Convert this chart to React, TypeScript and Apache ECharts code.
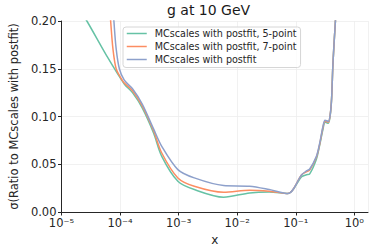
import React, { useEffect, useRef } from "react";
import * as echarts from "echarts";

const titleText = "g at 10 GeV";
const seriesNames = [
  "MCscales with postfit, 5-point",
  "MCscales with postfit, 7-point",
  "MCscales with postfit",
];
const seriesColors = ["#66c2a5", "#fc8d62", "#8da0cb"];

const greenX = [2.0e-5, 2.71e-5, 5.85e-5, 1.18e-4, 1.63e-4, 2.39e-4, 3.73e-4, 5.15e-4, 9.7e-4, 1.85e-3, 5.85e-3, 0.0163, 0.0351, 0.0736, 0.126, 0.152, 0.173, 0.224, 0.254, 0.29, 0.316, 0.359, 0.387, 0.409, 0.43, 0.459, 0.476, 0.5];
const greenY = [0.212, 0.2, 0.164, 0.134, 0.125, 0.109, 0.0827, 0.0583, 0.0322, 0.0235, 0.0155, 0.02, 0.021, 0.0193, 0.037, 0.039, 0.04, 0.055, 0.069, 0.086, 0.094, 0.093, 0.101, 0.119, 0.154, 0.185, 0.201, 0.24];

const orangeX = [6.0e-5, 6.9e-5, 7.55e-5, 8.57e-5, 1.04e-4, 1.18e-4, 1.63e-4, 2.39e-4, 3.73e-4, 5.15e-4, 9.7e-4, 1.85e-3, 5.85e-3, 0.0163, 0.0351, 0.0736, 0.126, 0.152, 0.173, 0.224, 0.254, 0.29, 0.316, 0.359, 0.387, 0.409, 0.43, 0.459, 0.476, 0.5];
const orangeY = [0.25, 0.2, 0.171, 0.15, 0.14, 0.135, 0.127, 0.111, 0.085, 0.0618, 0.0357, 0.027, 0.0207, 0.0228, 0.0217, 0.0193, 0.039, 0.042, 0.044, 0.057, 0.07, 0.088, 0.095, 0.094, 0.102, 0.119, 0.154, 0.185, 0.201, 0.24];

const blueX = [7.0e-5, 7.85e-5, 8.57e-5, 9.72e-5, 1.18e-4, 1.63e-4, 2.39e-4, 3.73e-4, 5.15e-4, 9.7e-4, 1.85e-3, 5.85e-3, 0.0163, 0.0351, 0.0736, 0.126, 0.152, 0.173, 0.224, 0.254, 0.29, 0.316, 0.359, 0.387, 0.409, 0.43, 0.459, 0.476, 0.5];
const blueY = [0.25, 0.2, 0.171, 0.15, 0.138, 0.129, 0.113, 0.087, 0.0687, 0.0444, 0.0357, 0.0277, 0.027, 0.0235, 0.0193, 0.039, 0.043, 0.045, 0.058, 0.071, 0.089, 0.096, 0.095, 0.102, 0.119, 0.154, 0.185, 0.201, 0.24];

const xMin = 1e-5;
const xMax = 1.71;
const yMin = 0;
const yMax = 0.2;
const yStep = 0.05;

const SUP: Record<string, string> = {
  "-": "⁻", "0": "⁰", "1": "¹", "2": "²", "3": "³", "4": "⁴",
  "5": "⁵", "6": "⁶", "7": "⁷", "8": "⁸", "9": "⁹",
};

function expLabel(v: number): string {
  const l = Math.log10(v);
  const e = Math.round(l);
  if (Math.abs(l - e) > 1e-6) return "";
  return "10" + String(e).split("").map((c) => SUP[c] || c).join("");
}

const zip = (xs: number[], ys: number[]) => xs.map((x, i) => [x, ys[i]]);

export default function App() {
  const ref = useRef<HTMLDivElement>(null);
  useEffect(() => {
    if (!ref.current) return;
    const chart = echarts.init(ref.current, null, { renderer: "svg" });
    const font = "DejaVu Sans";
    const datas = [zip(greenX, greenY), zip(orangeX, orangeY), zip(blueX, blueY)];
    chart.setOption({
      animation: false,
      backgroundColor: "#ffffff",
      textStyle: { fontFamily: font },
      title: {
        text: titleText,
        left: 167,
        top: 3,
        padding: 0,
        textStyle: { fontSize: 14, fontWeight: "normal", color: "#1a1a1a", fontFamily: font },
      },
      legend: {
        orient: "vertical",
        left: 123,
        top: 27,
        padding: [1.5, 4, 3, 3],
        itemWidth: 20,
        itemHeight: 11,
        itemGap: 3,
        backgroundColor: "rgba(255,255,255,0.8)",
        borderColor: "#d6d6d6",
        borderWidth: 1,
        borderRadius: 3,
        data: seriesNames,
        itemStyle: { opacity: 0, borderWidth: 0 },
        lineStyle: { width: 1.5 },
        textStyle: { fontSize: 9.6, color: "#262626", fontFamily: font, padding: [0, 0, 0, 3] },
      },
      grid: { left: 54, right: 6, top: 21, bottom: 39, containLabel: false },
      xAxis: {
        type: "log",
        logBase: 10,
        min: xMin,
        max: xMax,
        name: "x",
        nameLocation: "middle",
        nameGap: 22,
        nameTextStyle: { fontSize: 12, color: "#262626", fontFamily: font },
        axisLine: { show: true, lineStyle: { color: "#262626", width: 1 } },
        axisTick: { show: true, length: 3.5, lineStyle: { color: "#262626" } },
        axisLabel: {
          fontSize: 11.5,
          color: "#262626",
          margin: 5,
          fontFamily: font,
          showMaxLabel: false,
          formatter: (v: number) => expLabel(v),
        },
        splitLine: { show: true, lineStyle: { color: "#ededed", width: 0.8 } },
      },
      yAxis: {
        type: "value",
        min: yMin,
        max: yMax,
        interval: yStep,
        name: "σ(Ratio to MCscales with postfit)",
        nameLocation: "middle",
        nameGap: 40,
        nameTextStyle: { fontSize: 11.5, color: "#262626", fontFamily: font },
        axisLine: { show: true, lineStyle: { color: "#262626", width: 1 } },
        axisTick: { show: true, length: 3.5, lineStyle: { color: "#262626" } },
        axisLabel: {
          fontSize: 11.5,
          color: "#262626",
          margin: 5,
          fontFamily: font,
          formatter: (v: number) => v.toFixed(2),
        },
        splitLine: { show: true, lineStyle: { color: "#ededed", width: 0.8 } },
      },
      series: seriesNames.map((name, i) => ({
        name,
        type: "line",
        data: datas[i],
        symbol: "none",
        smooth: 0.3,
        clip: true,
        z: 2 + i,
        lineStyle: { color: seriesColors[i], width: 1.5 },
        itemStyle: { color: seriesColors[i] },
      })),
    });
    return () => chart.dispose();
  }, []);
  return (
    <div
      ref={ref}
      style={{ position: "fixed", left: 0, top: 0, width: 374, height: 251 }}
    />
  );
}
